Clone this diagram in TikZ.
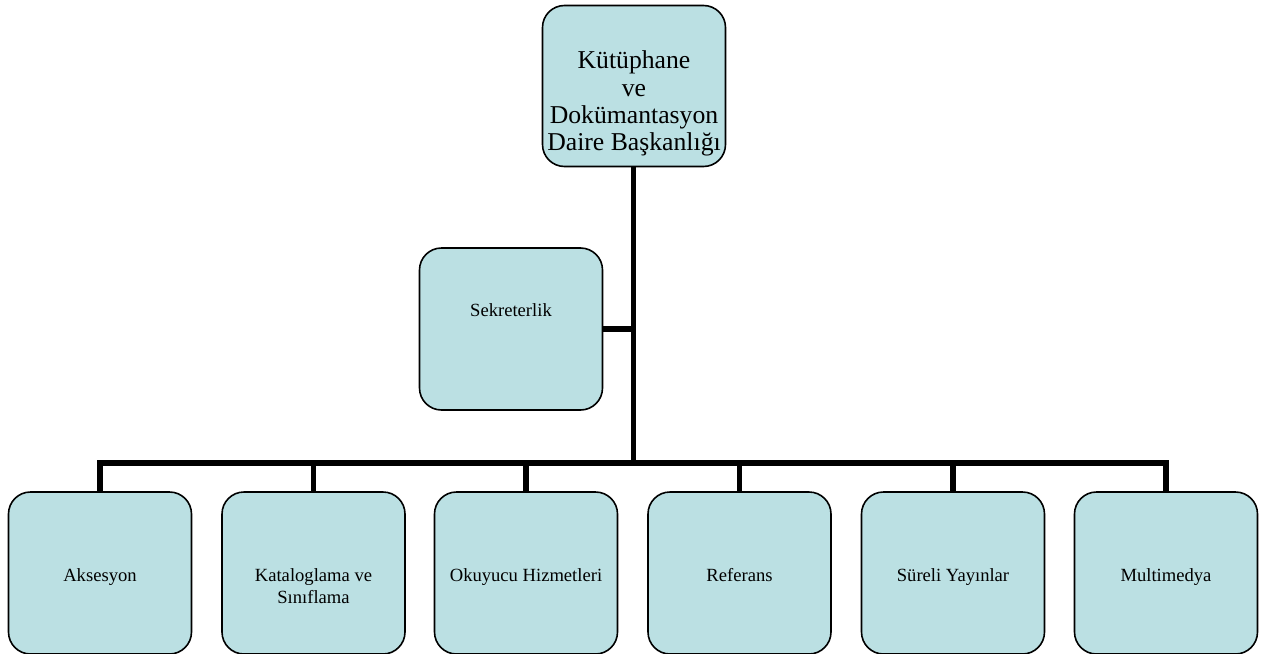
\documentclass[tikz,border=0pt]{standalone}
\usepackage{fontspec}
\setmainfont{Liberation Serif}
\usepackage{tikz}
\usetikzlibrary{calc}
\definecolor{boxfill}{RGB}{187,224,227}

\begin{document}
\begin{tikzpicture}[line cap=butt,line join=miter,x=1pt,y=-1pt,
  box/.style={draw=black,line width=1.6pt,fill=boxfill,rounded corners=22pt,
    minimum width=183pt,inner sep=0pt,align=center},
  chief/.style={box,minimum height=161pt,font=\fontsize{25.7}{27.3}\selectfont},
  unit/.style={box,minimum height=162pt,text height=21pt,text depth=4pt,
    font=\fontsize{18.6}{21.7}\selectfont},
  conn/.style={line width=5.5pt}]
\useasboundingbox (0,0) rectangle (1271,653);
\clip (0,0) rectangle (1271,653);
\coordinate (bus) at (633.5,463);
\node[chief,text height=135pt] (kdb) at (634,86) {K\"ut\"uphane\\ve\\Dok\"umantasyon\\Daire Ba\c{s}kanl\i\u{g}\i};
\node[unit,text height=14pt,text depth=40pt] (sek) at (511,329) {Sekreterlik};
\foreach \n/\x/\h/\t in {aks/100/21/Aksesyon,kat/313.5/64/{Kataloglama ve\\S\i n\i flama},oku/526/21/Okuyucu Hizmetleri,ref/739.5/21/Referans,sur/953/21/S\"ureli Yay\i nlar,mul/1166/21/Multimedya}
  \node[unit,text height=\h pt] (\n) at (\x,573) {\t};
\draw[conn] (kdb.south -| bus) -- (bus);
\draw[conn] (sek.east) -- (sek.east -| bus);
\draw[conn] (aks.north) -- (aks.north |- bus) -- (mul.north |- bus) -- (mul.north);
\foreach \n in {kat,oku,ref,sur}
  \draw[conn] (\n.north |- bus) -- (\n.north);
\end{tikzpicture}
\end{document}
